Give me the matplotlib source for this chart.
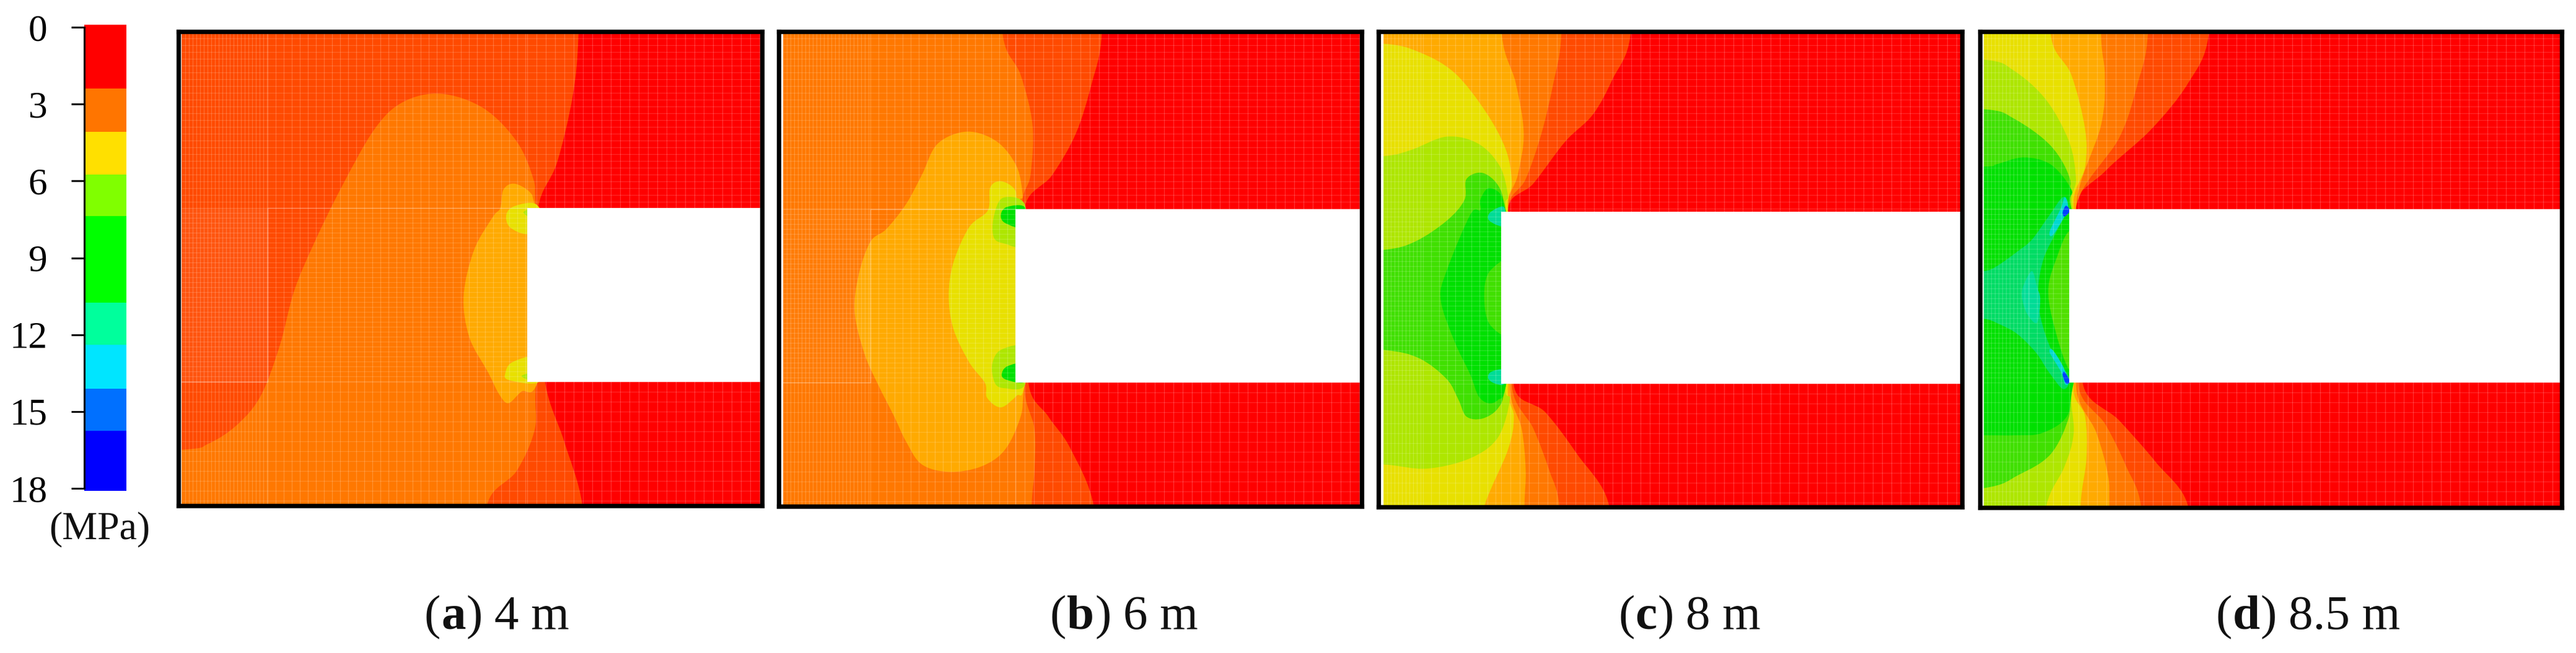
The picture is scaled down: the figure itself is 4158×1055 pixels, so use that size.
import numpy as np
import matplotlib
matplotlib.use("Agg")
import matplotlib.pyplot as plt
from matplotlib.path import Path
from matplotlib.patches import PathPatch, Rectangle

plt.rcParams['font.family'] = ['Liberation Serif', 'DejaVu Serif']

W, H = 4158, 1055

# ---------- colour scale ----------
SCALE_TICKS = [0, 3, 6, 9, 12, 15, 18]
SCALE_BOUNDS = [-0.1, 2.4, 4.08, 5.76, 7.38, 10.75, 12.4, 14.1, 15.75, 18.1]
SCALE_COLORS = ['#ff0000', '#ff7500', '#ffe000', '#80ff00', '#00ff00',
                '#00ff9c', '#00e5ff', '#0070ff', '#0000ff']

# ---------- contour level colours ----------
C_RED = '#ff0000'
C1 = '#ff4a00'
C2 = '#ff7800'
C3 = '#ffaa00'
C4 = '#e8e000'
C5 = '#aee600'
C6 = '#40e000'
C7 = '#00e000'
C8 = '#00dc64'
C9 = '#00dc96'
C10 = '#00d8d0'
C11 = '#0040ff'

# ---------- panel (a) 4 m, outlines in panel units ----------
A_L1 = [(1220,-150),(1220,85),(1208,230),(1175,390),(1135,500),(1135,700),(1150,920),(1190,1060),(1228,1210),(1235,1400),(100,1400),(100,-150)]
A_L2 = [(930,225),(1020,260),(1090,340),(1125,430),(1130,490),(1150,700),(1130,930),(1128,1030),(1090,1130),(1028,1210),(1028,1400),(100,1400),(100,1095),(382,1080),(440,1065),(500,1020),(550,950),(590,830),(620,700),(660,590),(720,450),(790,310),(850,245)]
A_L3 = [(1130,500),(1118,462),(1085,441),(1062,455),(1055,500),(1040,520),(1000,600),(978,710),(990,810),(1030,895),(1052,945),(1072,968),(1100,940),(1133,920),(1180,700)]
A_L4a = [(1130,490),(1085,495),(1068,515),(1075,545),(1112,562),(1150,540)]
A_L4b = [(1130,855),(1080,870),(1066,895),(1072,912),(1130,920),(1150,890)]
A_L5a = [(1125,500),(1104,510),(1125,525)]
A_L5b = [(1125,895),(1100,903),(1125,915)]
A_LAYERS = [(C1,A_L1),(C2,A_L2),(C3,A_L3),(C4,A_L4a),(C4,A_L4b),(C5,A_L5a),(C5,A_L5b)]

# ---------- panel (b) 6 m ----------
B_L1 = [(985,-150),(985,85),(960,200),(920,320),(860,420),(790,500),(810,700),(800,920),(850,1000),(905,1075),(965,1215),(965,1400),(50,1400),(50,-150)]
B_L2 = [(735,-150),(735,85),(780,180),(810,300),(805,420),(785,500),(830,700),(790,920),(815,1030),(815,1130),(808,1215),(808,1400),(50,1400),(50,-150)]
B_L3 = [(645,316),(720,340),(770,400),(785,470),(780,500),(830,700),(790,925),(780,1000),(740,1080),(680,1120),(600,1133),(530,1115),(490,1060),(460,1000),(420,925),(385,850),(360,750),(370,660),(400,580),(440,550),(490,490),(530,420),(570,345)]
B_L4 = [(775,500),(765,455),(730,435),(703,450),(697,505),(650,545),(610,630),(598,710),(610,790),(650,870),(690,920),(695,955),(730,978),(770,950),(790,925),(830,700)]
B_L5a = [(790,490),(735,475),(712,520),(712,570),(740,585),(790,588)]
B_L5b = [(790,835),(730,840),(708,875),(715,920),(740,932),(790,925)]
B_L6a = [(790,497),(745,497),(730,515),(740,535),(790,547)]
B_L6b = [(790,873),(745,880),(732,900),(745,912),(790,917)]
B_LAYERS = [(C1,B_L1),(C2,B_L2),(C3,B_L3),(C4,B_L4),(C5,B_L5a),(C5,B_L5b),(C7,B_L6a),(C7,B_L6b)]

# ---------- panel (c) 8 m ----------
C_L1 = [(865,-150),(865,85),(820,190),(770,275),(700,340),(620,440),(555,505),(600,700),(570,925),(650,990),(730,1090),(810,1210),(810,1400),(50,1400),(50,-150)]
C_L2 = [(690,-150),(690,85),(670,200),(640,320),(600,430),(555,505),(590,700),(565,925),(620,1030),(660,1130),(685,1215),(685,1400),(50,1400),(50,-150)]
C_L3 = [(540,-150),(540,85),(575,200),(595,320),(580,420),(555,505),(590,700),(560,925),(590,1030),(600,1130),(597,1215),(597,1400),(50,1400),(50,-150)]
C_L4 = [(50,105),(240,105),(330,125),(420,175),(500,270),(550,360),(565,440),(555,505),(590,700),(555,925),(570,1000),(555,1080),(495,1215),(440,1400),(50,1400)]
C_L5 = [(50,385),(240,375),(310,360),(400,328),(480,345),(535,400),(555,470),(550,505),(590,700),(550,925),(560,960),(530,1050),(460,1100),(350,1125),(240,1115),(50,1105)]
C_L6 = [(50,610),(240,600),(320,580),(400,530),(445,480),(450,430),(490,415),(530,445),(550,505),(590,700),(550,925),(530,980),(490,1005),(450,1000),(430,960),(400,910),(330,860),(240,840),(50,830)]
C_L7 = [(485,480),(505,452),(535,465),(548,505),(590,700),(550,925),(530,960),(505,968),(480,950),(460,900),(420,820),(385,720),(400,650),(460,515),(485,505)]
C_L8 = [(570,630),(510,650),(495,710),(510,780),(570,800)]
C_L9a = [(545,497),(510,510),(508,530),(545,542)]
C_L9b = [(545,888),(512,893),(505,908),(520,920),(545,922)]
C_LAYERS = [(C1,C_L1),(C2,C_L2),(C3,C_L3),(C4,C_L4),(C5,C_L5),(C6,C_L6),(C7,C_L7),(C6,C_L8),(C9,C_L9a),(C9,C_L9b)]

# ---------- panel (d) 8.5 m ----------
D_L1 = [(765,-150),(765,85),(720,200),(640,310),(540,410),(470,503),(520,700),(490,920),(570,1010),(650,1110),(720,1215),(720,1400),(50,1400),(50,-150)]
D_L2 = [(632,-150),(632,85),(610,200),(570,330),(475,500),(520,700),(480,920),(540,1020),(585,1120),(617,1215),(617,1400),(50,1400),(50,-150)]
D_L3 = [(530,-150),(530,85),(538,180),(530,300),(475,500),(520,700),(475,920),(520,1040),(545,1140),(548,1215),(548,1400),(50,1400),(50,-150)]
D_L4 = [(420,-150),(420,85),(465,180),(495,310),(495,400),(470,500),(520,700),(470,920),(495,1000),(498,1100),(485,1215),(485,1400),(50,1400),(50,-150)]
D_L5 = [(50,135),(273,143),(340,170),(410,240),(460,340),(475,430),(468,500),(520,700),(468,920),(470,1040),(450,1120),(410,1215),(390,1400),(50,1400)]
D_L6 = [(50,255),(273,262),(340,285),(420,350),(462,430),(460,500),(520,700),(465,920),(460,1000),(420,1090),(350,1140),(273,1172),(50,1190)]
D_L7 = [(50,405),(273,400),(300,395),(360,378),(420,395),(465,455),(465,500),(520,700),(470,920),(455,1000),(400,1040),(340,1045),(273,1045),(50,1045)]
D_L8 = [(200,655),(273,651),(302,639),(347,604),(379,575),(415,520),(447,473),(458,500),(433,555),(405,619),(393,689),(398,763),(424,847),(460,906),(447,934),(415,892),(388,847),(347,802),(307,778),(273,765),(200,760)]
D_L9 = [(379,651),(361,684),(357,713),(368,753),(390,775),(397,718),(390,689)]
D_L10 = [(500,555),(460,555),(433,619),(415,689),(424,768),(460,887),(500,887)]
D_L11a = [(418,555),(442,500),(451,473),(458,500),(447,525),(424,565)]
D_L11b = [(418,847),(442,892),(451,922),(458,918),(447,880),(424,840)]
D_L12a = [(446,510),(453,494),(462,506),(450,520)]
D_L12b = [(446,900),(453,920),(462,916),(450,893)]
D_LAYERS = [(C1,D_L1),(C2,D_L2),(C3,D_L3),(C4,D_L4),(C5,D_L5),(C6,D_L6),(C7,D_L7),(C8,D_L8),(C9,D_L9),('#50e000',D_L10),(C10,D_L11a),(C10,D_L11b),(C11,D_L12a),(C11,D_L12b)]

# ---------- panel frames (figure pixels) and panel-unit scales ----------
PANEL_LABELS = [('a', '4 m'), ('b', '6 m'), ('c', '8 m'), ('d', '8.5 m')]
CAPTION_X = [685, 1695, 2612, 3576]
FRAME_X = [(287.5, 1230), (1257, 2198), (2225, 3167), (3196, 4135)]
FRAME_Y = [(51, 817), (51, 818), (51, 819), (51, 820)]
UNIT_OX = [0, 1150, 2080, 3000]
UNIT_SX = [1.3067, 1.568, 1.568, 1.354]
UNIT_SY = 1.486
INNER_LEFT = [383, 178, 240, 273]
FACE_X = [1112, 767, 538, 460]
OPEN_Y = [(500, 917), (503, 919), (508, 922), (503, 918)]
LAYERS = [A_LAYERS, B_LAYERS, C_LAYERS, D_LAYERS]
FINE_BOX = [(383, 565, 500, 917), (178, 400, 503, 919), None, None]
FINE_TINT = [0.06, 0.03, 0, 0]

MESH_DX = (6, 13, 15)      # figure px: far left, mid, right of face
MESH_DY = (11, 8, 16)      # figure px: top band, middle band, bottom band


def smooth_path(points):
    p = np.asarray(points, float)
    n = len(p)
    verts = [p[0]]
    codes = [Path.MOVETO]
    for i in range(n):
        p0, p1, p2, p3 = p[i-1], p[i], p[(i+1) % n], p[(i+2) % n]
        verts += [p1 + (p2-p0)/6, p2 - (p3-p1)/6, p2]
        codes += [Path.CURVE4]*3
    return Path(verts, codes)


fig = plt.figure(figsize=(W/100, H/100), dpi=100, facecolor='white')


def axes_px(x0, x1, y0, y1):
    return fig.add_axes([x0/W, 1-y1/H, (x1-x0)/W, (y1-y0)/H])


# ---------- colour scale ----------
cb = axes_px(136, 204, 40, 793)
for lo, hi, col in zip(SCALE_BOUNDS[:-1], SCALE_BOUNDS[1:], SCALE_COLORS):
    cb.bar(0.5, hi-lo, bottom=lo, width=1, color=col, linewidth=0)
cb.set_xlim(0, 1)
cb.set_ylim(18.1, -0.1)
cb.set_xticks([])
cb.set_yticks(SCALE_TICKS)
cb.tick_params(axis='y', length=15, width=2.2, pad=28, labelsize=44, color='#111111')
for s in ('top', 'right', 'bottom'):
    cb.spines[s].set_visible(False)
cb.spines['left'].set_bounds(0, 18)
cb.spines['left'].set_linewidth(2.2)
fig.text(161/W, 1-855/H, '(MPa)', ha='center', va='center', fontsize=46, color='#111111')

# ---------- panels ----------
for i in range(4):
    fx0, fx1 = FRAME_X[i]
    fy0, fy1 = FRAME_Y[i]
    ox, sx = UNIT_OX[i], UNIT_SX[i]
    ax = axes_px(fx0, fx1, fy0, fy1)
    ux0, ux1 = (fx0-ox)*sx, (fx1-ox)*sx
    uy0, uy1 = fy0*UNIT_SY, fy1*UNIT_SY
    ax.set_xlim(ux0, ux1)
    ax.set_ylim(uy1, uy0)
    ax.set_xticks([])
    ax.set_yticks([])
    for s in ax.spines.values():
        s.set_linewidth(5.2)
        s.set_color('black')
        s.set_zorder(20)

    inner = Rectangle((INNER_LEFT[i], uy0), ux1-INNER_LEFT[i], uy1-uy0, transform=ax.transData)
    bg = Rectangle((INNER_LEFT[i], uy0), ux1-INNER_LEFT[i], uy1-uy0, color=C_RED, lw=0, zorder=1)
    ax.add_patch(bg)
    for z, (col, pts) in enumerate(LAYERS[i]):
        patch = PathPatch(smooth_path(pts), facecolor=col, edgecolor='none', lw=0, zorder=2+z*0.01)
        ax.add_patch(patch)
        patch.set_clip_path(inner)

    # mesh
    face, (oy0, oy1) = FACE_X[i], OPEN_Y[i]
    box = FINE_BOX[i]
    left_end = box[1] if box else INNER_LEFT[i] + 100
    xs = np.concatenate([
        np.arange(INNER_LEFT[i], left_end, MESH_DX[0]*sx),
        np.arange(left_end, face, MESH_DX[1]*sx),
        np.arange(face, ux1, MESH_DX[2]*sx)])
    ys = np.concatenate([
        np.arange(uy0, oy0, MESH_DY[0]*UNIT_SY),
        np.arange(oy0, oy1, MESH_DY[1]*UNIT_SY),
        np.arange(oy1, uy1, MESH_DY[2]*UNIT_SY)])
    ax.vlines(xs, uy0, uy1, colors='white', alpha=0.2, lw=0.9, zorder=5)
    ax.hlines(ys, INNER_LEFT[i], ux1, colors='white', alpha=0.16, lw=0.9, zorder=5)
    if box:
        ax.add_patch(Rectangle((box[0], box[2]), box[1]-box[0], box[3]-box[2],
                               facecolor='white', alpha=FINE_TINT[i], lw=0, zorder=5))
        ax.plot([ux1, box[1], box[1], INNER_LEFT[i]], [box[2], box[2], box[3], box[3]],
                color='white', alpha=0.3, lw=1.0, zorder=5)

    # opening
    ax.add_patch(Rectangle((face, oy0), ux1-face, oy1-oy0, color='white', lw=0, zorder=10))

    # caption
    x = CAPTION_X[i]
    base = 1-1016/H
    renderer = fig.canvas.get_renderer()
    letter, dist = PANEL_LABELS[i]
    for txt, weight, gap in (('(', 'normal', 1), (letter, 'bold', 1), (')', 'normal', 19), (dist, 'normal', 0)):
        t = fig.text(x/W, base, txt, fontsize=57, fontweight=weight, ha='left', va='baseline', color='#111111')
        x = t.get_window_extent(renderer).x1 + gap

fig.savefig('out.png', dpi=100, facecolor='white')
